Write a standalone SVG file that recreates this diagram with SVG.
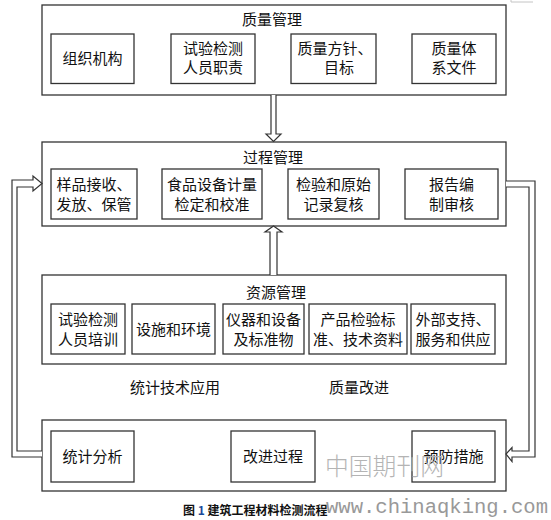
<svg xmlns="http://www.w3.org/2000/svg" width="551" height="520" viewBox="0 0 551 520">
<style>
.outer{fill:#fff;stroke:#333;stroke-width:1.3}
.inner{fill:#fff;stroke:#333;stroke-width:1.3}
.t{font-family:"Noto Sans CJK SC",sans-serif;font-size:15px;fill:#111;text-anchor:middle}
.conn{fill:#fff;stroke:#333;stroke-width:1.2;stroke-linejoin:miter}
.cap{font-family:"Noto Sans CJK SC",sans-serif;font-size:12px;font-weight:bold;fill:#111}
.wm1{font-family:"Noto Sans CJK SC",sans-serif;font-size:24px;font-weight:300;fill:#b4b4b4}
.wm2{font-family:"Liberation Mono",monospace;font-size:20.5px;fill:#999}
</style>
<rect width="551" height="520" fill="#fff"/>
<polyline points="511,0 511,2 533,2" fill="none" stroke="#c4c4c4" stroke-width="1"/>

<g id="quality">
<rect class="outer" x="42" y="5" width="464" height="90"/>
<text class="t" x="272" y="25">质量管理</text>
<rect class="inner" x="51" y="34" width="83" height="49.5"/>
<text class="t" x="92.5" y="64">组织机构</text>
<rect class="inner" x="171" y="34" width="84" height="49.5"/>
<text class="t" x="213" y="54">试验检测</text>
<text class="t" x="213" y="73">人员职责</text>
<rect class="inner" x="291" y="34" width="85" height="49.5"/>
<text class="t" x="335" y="54">质量方针、</text>
<text class="t" x="339" y="73">目标</text>
<rect class="inner" x="412" y="34" width="84" height="49.5"/>
<text class="t" x="454" y="54">质量体</text>
<text class="t" x="454" y="73">系文件</text>
</g>

<g id="process">
<rect class="outer" x="42" y="142" width="464" height="84"/>
<text class="t" x="273" y="163">过程管理</text>
<rect class="inner" x="51" y="169" width="86" height="50"/>
<text class="t" x="94" y="190">样品接收、</text>
<text class="t" x="94" y="210">发放、保管</text>
<rect class="inner" x="162" y="169" width="100" height="50"/>
<text class="t" x="212" y="190">食品设备计量</text>
<text class="t" x="212" y="210">检定和校准</text>
<rect class="inner" x="288" y="169" width="91" height="50"/>
<text class="t" x="333.5" y="190">检验和原始</text>
<text class="t" x="333.5" y="210">记录复核</text>
<rect class="inner" x="405" y="169" width="93" height="50"/>
<text class="t" x="451.5" y="190">报告编</text>
<text class="t" x="451.5" y="210">制审核</text>
</g>

<g id="resource">
<rect class="outer" x="42" y="275" width="464" height="89"/>
<text class="t" x="276" y="298">资源管理</text>
<rect class="inner" x="51" y="304" width="74" height="50"/>
<text class="t" x="88" y="325">试验检测</text>
<text class="t" x="88" y="345">人员培训</text>
<rect class="inner" x="132" y="304" width="83" height="50"/>
<text class="t" x="173.5" y="334.5">设施和环境</text>
<rect class="inner" x="223" y="304" width="81" height="50"/>
<text class="t" x="263.5" y="325">仪器和设备</text>
<text class="t" x="263.5" y="345">及标准物</text>
<rect class="inner" x="309" y="304" width="98" height="50"/>
<text class="t" x="358" y="325">产品检验标</text>
<text class="t" x="358" y="345">准、技术资料</text>
<rect class="inner" x="411" y="304" width="84" height="50"/>
<text class="t" x="453" y="325">外部支持、</text>
<text class="t" x="453" y="345">服务和供应</text>
</g>

<g id="labels">
<text class="t" x="175" y="393">统计技术应用</text>
<text class="t" x="359" y="393">质量改进</text>
</g>

<g id="improve">
<rect class="outer" x="42" y="420" width="464" height="71"/>
<rect class="inner" x="51" y="431" width="83" height="51"/>
<text class="t" x="92.5" y="462">统计分析</text>
<rect class="inner" x="231" y="431" width="84" height="51"/>
<text class="t" x="273" y="462">改进过程</text>
<rect class="inner" x="412" y="431" width="83" height="51"/>
<text class="t" x="453.5" y="462">预防措施</text>
</g>

<g id="connectors">
<path class="conn" d="M271,95 V134 H266 L273.5,141.5 L281,134 H276 V95"/>
<path class="conn" d="M270,275 V232 H265 L273.5,226 L282,232 H277 V275"/>
<path class="conn" d="M42,451 H17 V187 H33 V191 L42,183.5 L33,176 V180 H12 V457 H42"/>
<path class="conn" d="M506,181 H535 V457 H512 V461.5 L506,454 L512,447.5 V451 H529 V187 H506"/>
</g>

<g id="caption">
<text class="cap" x="183" y="515">图 <tspan fill="#1a4a9a">1</tspan> 建筑工程材料检测流程</text>
</g>
<g id="watermark">
<text class="wm1" x="325" y="475" textLength="119" lengthAdjust="spacingAndGlyphs">中国期刊网</text>
<text class="wm2" x="326" y="513" textLength="222" lengthAdjust="spacingAndGlyphs">www.chinaqking.com</text>
</g>
</svg>
